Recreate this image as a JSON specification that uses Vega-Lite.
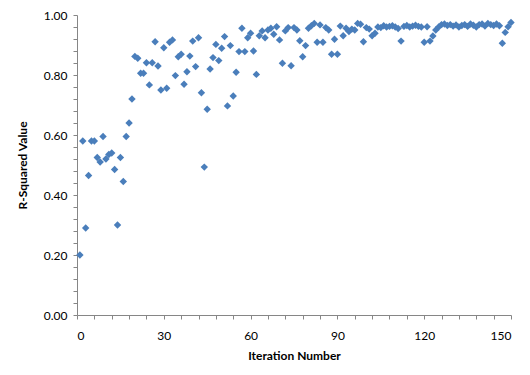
{
  "$schema": "https://vega.github.io/schema/vega-lite/v6.json",
  "autosize": {"type": "none"},
  "padding": {"left": 77, "top": 15, "right": 19, "bottom": 60},
  "width": 434,
  "height": 300,
  "background": "white",
  "config": {
    "view": {"stroke": null},
    "font": "Lato",
    "axis": {
      "grid": false,
      "domainColor": "#868686",
      "tickColor": "#868686",
      "tickSize": 4,
      "labelFont": "Lato",
      "labelFontSize": 12,
      "labelColor": "#000000",
      "titleFont": "Lato",
      "titleFontSize": 12,
      "titleFontWeight": "bold",
      "titleColor": "#000000"
    }
  },
  "data": {
    "values": [
      {"iteration": 1, "r2": 0.20}, {"iteration": 2, "r2": 0.58}, {"iteration": 3, "r2": 0.29},
      {"iteration": 4, "r2": 0.465}, {"iteration": 5, "r2": 0.58}, {"iteration": 6, "r2": 0.58},
      {"iteration": 7, "r2": 0.525}, {"iteration": 8, "r2": 0.51}, {"iteration": 9, "r2": 0.595},
      {"iteration": 10, "r2": 0.52}, {"iteration": 11, "r2": 0.535}, {"iteration": 12, "r2": 0.54},
      {"iteration": 13, "r2": 0.485}, {"iteration": 14, "r2": 0.30}, {"iteration": 15, "r2": 0.525},
      {"iteration": 16, "r2": 0.445}, {"iteration": 17, "r2": 0.595}, {"iteration": 18, "r2": 0.64},
      {"iteration": 19, "r2": 0.72}, {"iteration": 20, "r2": 0.862}, {"iteration": 21, "r2": 0.856},
      {"iteration": 22, "r2": 0.806}, {"iteration": 23, "r2": 0.806}, {"iteration": 24, "r2": 0.841},
      {"iteration": 25, "r2": 0.767}, {"iteration": 26, "r2": 0.841}, {"iteration": 27, "r2": 0.911},
      {"iteration": 28, "r2": 0.83}, {"iteration": 29, "r2": 0.75}, {"iteration": 30, "r2": 0.891},
      {"iteration": 31, "r2": 0.756}, {"iteration": 32, "r2": 0.909}, {"iteration": 33, "r2": 0.917},
      {"iteration": 34, "r2": 0.798}, {"iteration": 35, "r2": 0.861}, {"iteration": 36, "r2": 0.869},
      {"iteration": 37, "r2": 0.769}, {"iteration": 38, "r2": 0.811}, {"iteration": 39, "r2": 0.863},
      {"iteration": 40, "r2": 0.913}, {"iteration": 41, "r2": 0.828}, {"iteration": 42, "r2": 0.924},
      {"iteration": 43, "r2": 0.741}, {"iteration": 44, "r2": 0.493}, {"iteration": 45, "r2": 0.686},
      {"iteration": 46, "r2": 0.82}, {"iteration": 47, "r2": 0.858}, {"iteration": 48, "r2": 0.902},
      {"iteration": 49, "r2": 0.848}, {"iteration": 50, "r2": 0.889}, {"iteration": 51, "r2": 0.928},
      {"iteration": 52, "r2": 0.697}, {"iteration": 53, "r2": 0.898}, {"iteration": 54, "r2": 0.73},
      {"iteration": 55, "r2": 0.809}, {"iteration": 56, "r2": 0.878}, {"iteration": 57, "r2": 0.956},
      {"iteration": 58, "r2": 0.878}, {"iteration": 59, "r2": 0.924}, {"iteration": 60, "r2": 0.939},
      {"iteration": 61, "r2": 0.88}, {"iteration": 62, "r2": 0.802}, {"iteration": 63, "r2": 0.931},
      {"iteration": 64, "r2": 0.947}, {"iteration": 65, "r2": 0.924}, {"iteration": 66, "r2": 0.95},
      {"iteration": 67, "r2": 0.956}, {"iteration": 68, "r2": 0.936}, {"iteration": 69, "r2": 0.961},
      {"iteration": 70, "r2": 0.917}, {"iteration": 71, "r2": 0.839}, {"iteration": 72, "r2": 0.947},
      {"iteration": 73, "r2": 0.958}, {"iteration": 74, "r2": 0.831}, {"iteration": 75, "r2": 0.958},
      {"iteration": 76, "r2": 0.95}, {"iteration": 77, "r2": 0.914}, {"iteration": 78, "r2": 0.861},
      {"iteration": 79, "r2": 0.898}, {"iteration": 80, "r2": 0.956}, {"iteration": 81, "r2": 0.964},
      {"iteration": 82, "r2": 0.972}, {"iteration": 83, "r2": 0.909}, {"iteration": 84, "r2": 0.967},
      {"iteration": 85, "r2": 0.909}, {"iteration": 86, "r2": 0.958}, {"iteration": 87, "r2": 0.95},
      {"iteration": 88, "r2": 0.869}, {"iteration": 89, "r2": 0.919}, {"iteration": 90, "r2": 0.869},
      {"iteration": 91, "r2": 0.963}, {"iteration": 92, "r2": 0.931}, {"iteration": 93, "r2": 0.956},
      {"iteration": 94, "r2": 0.945}, {"iteration": 95, "r2": 0.953}, {"iteration": 96, "r2": 0.95},
      {"iteration": 97, "r2": 0.972}, {"iteration": 98, "r2": 0.969}, {"iteration": 99, "r2": 0.911},
      {"iteration": 100, "r2": 0.958}, {"iteration": 101, "r2": 0.953}, {"iteration": 102, "r2": 0.931},
      {"iteration": 103, "r2": 0.939}, {"iteration": 104, "r2": 0.96}, {"iteration": 105, "r2": 0.958},
      {"iteration": 106, "r2": 0.964}, {"iteration": 107, "r2": 0.96}, {"iteration": 108, "r2": 0.962},
      {"iteration": 109, "r2": 0.964}, {"iteration": 110, "r2": 0.96}, {"iteration": 111, "r2": 0.955},
      {"iteration": 112, "r2": 0.913}, {"iteration": 113, "r2": 0.962}, {"iteration": 114, "r2": 0.965},
      {"iteration": 115, "r2": 0.96}, {"iteration": 116, "r2": 0.963}, {"iteration": 117, "r2": 0.966},
      {"iteration": 118, "r2": 0.962}, {"iteration": 119, "r2": 0.96}, {"iteration": 120, "r2": 0.909},
      {"iteration": 121, "r2": 0.961}, {"iteration": 122, "r2": 0.913}, {"iteration": 123, "r2": 0.93},
      {"iteration": 124, "r2": 0.95}, {"iteration": 125, "r2": 0.96}, {"iteration": 126, "r2": 0.968},
      {"iteration": 127, "r2": 0.97}, {"iteration": 128, "r2": 0.965}, {"iteration": 129, "r2": 0.968},
      {"iteration": 130, "r2": 0.963}, {"iteration": 131, "r2": 0.967}, {"iteration": 132, "r2": 0.96},
      {"iteration": 133, "r2": 0.965}, {"iteration": 134, "r2": 0.968}, {"iteration": 135, "r2": 0.962},
      {"iteration": 136, "r2": 0.97}, {"iteration": 137, "r2": 0.966}, {"iteration": 138, "r2": 0.96},
      {"iteration": 139, "r2": 0.968}, {"iteration": 140, "r2": 0.97}, {"iteration": 141, "r2": 0.963},
      {"iteration": 142, "r2": 0.972}, {"iteration": 143, "r2": 0.968}, {"iteration": 144, "r2": 0.965},
      {"iteration": 145, "r2": 0.97}, {"iteration": 146, "r2": 0.964}, {"iteration": 147, "r2": 0.906},
      {"iteration": 148, "r2": 0.942}, {"iteration": 149, "r2": 0.961}, {"iteration": 150, "r2": 0.975}
    ]
  },
  "mark": {"type": "point", "shape": "diamond", "filled": true, "size": 55, "color": "#4A7EBB", "opacity": 1},
  "encoding": {
    "x": {
      "field": "iteration",
      "type": "quantitative",
      "scale": {"domain": [0, 150], "nice": false},
      "axis": {
        "title": "Iteration Number",
        "values": [0, 6, 12, 18, 24, 30, 36, 42, 48, 54, 60, 66, 72, 78, 84, 90, 96, 102, 108, 114, 120, 126, 132, 138, 144, 150],
        "labelExpr": "datum.value % 30 === 0 ? datum.label : ''",
        "labelPadding": 11,
        "titlePadding": 9
      }
    },
    "y": {
      "field": "r2",
      "type": "quantitative",
      "scale": {"domain": [0, 1], "nice": false},
      "axis": {
        "title": "R-Squared Value",
        "values": [0, 0.04, 0.08, 0.12, 0.16, 0.2, 0.24, 0.28, 0.32, 0.36, 0.4, 0.44, 0.48, 0.52, 0.56, 0.6, 0.64, 0.68, 0.72, 0.76, 0.8, 0.84, 0.88, 0.92, 0.96, 1.0],
        "labelExpr": "abs(datum.value * 5 - round(datum.value * 5)) < 0.001 ? format(datum.value, '.2f') : ''",
        "labelPadding": 6,
        "titlePadding": 14
      }
    }
  }
}
